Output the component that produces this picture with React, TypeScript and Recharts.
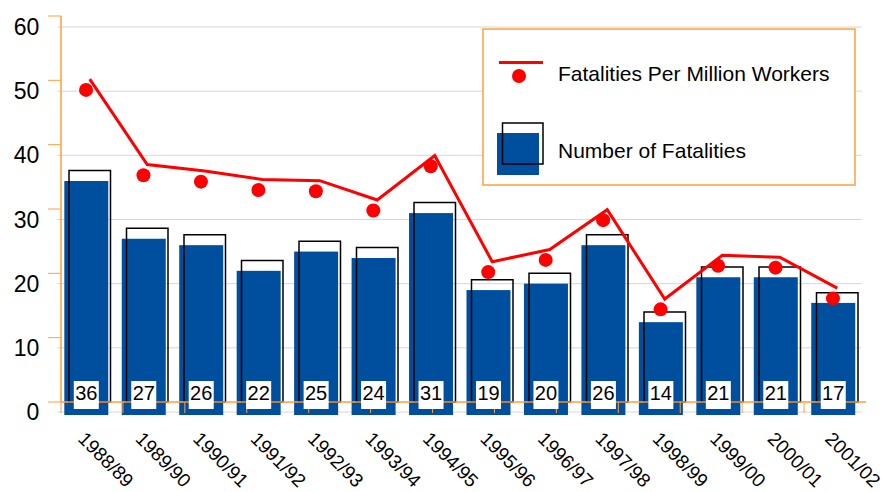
import React from 'react';
import { ComposedChart, Bar, Line, XAxis, YAxis, CartesianGrid, LabelList } from 'recharts';

const years = ['1988/89','1989/90','1990/91','1991/92','1992/93','1993/94','1994/95','1995/96','1996/97','1997/98','1998/99','1999/00','2000/01','2001/02'];
const fatalities = [36,27,26,22,25,24,31,19,20,26,14,21,21,17];
const ratePerMillion = [50.2,36.9,35.9,34.6,34.4,31.4,38.3,21.8,23.7,29.9,16.0,22.8,22.5,17.7];
const yTicks = [0,10,20,30,40,50,60];
const boundaryTicks = [0,1,2,3,4,5,6,7,8,9,10,11,12,13,14];

const data = years.map((year, i) => ({ year, fatalities: fatalities[i], rate: ratePerMillion[i] }));

const FONT = '"Liberation Sans", Arial, sans-serif';
const ORANGE = '#ff9f40';
const BLUE = '#004f9e';
const RED = '#ff0000';
const W = 882;
const H = 492;

const abs: React.CSSProperties = { position: 'absolute', left: 0, top: 0 };

const XTick = (props: any) => {
  const { x, y, payload } = props;
  const tx = x - 9;
  return (
    <text x={tx} y={y} transform={`rotate(45, ${tx}, ${y})`} textAnchor="start" fontSize={19} fontFamily={FONT} fill="#000">
      {payload.value}
    </text>
  );
};

const BlueBar = (props: any) => {
  const { x, y, width, height } = props;
  return <rect x={x} y={y} width={width} height={height + 3} fill={BLUE} />;
};

const ValueLabel = (props: any) => {
  const { x, y, width, height, value } = props;
  const cx = x + width / 2;
  const base = y + height;
  return (
    <g>
      <rect x={cx - 12.5} y={base - 31} width={25} height={28} fill="#fff" />
      <text x={cx} y={base - 12} textAnchor="middle" fontSize={20} fontFamily={FONT} fill="#000">{value}</text>
    </g>
  );
};

const EmptyTick = () => <g />;

export default function App() {
  return (
    <div style={{ position: 'absolute', left: 0, top: 0, width: W, height: H, background: '#fff' }}>
      {/* Layer A: grid, labels, blue bars */}
      <div style={abs}>
        <ComposedChart width={W} height={H} data={data} margin={{ top: 27, right: 20.3, left: 0, bottom: 0 }}>
          <CartesianGrid vertical={false} stroke="#d6d6d6" strokeWidth={1} />
          <XAxis dataKey="year" height={80} tickLine={false} axisLine={false} tickSize={0} tickMargin={28} tick={<XTick />} interval={0} />
          <YAxis width={57.3} domain={[0, 60]} ticks={yTicks} tickLine={false} axisLine={false} tickSize={0} tickMargin={18}
            tick={{ fill: '#000', fontSize: 23, fontFamily: FONT }} />
          <Bar dataKey="fatalities" barSize={44} fill={BLUE} shape={<BlueBar />} isAnimationActive={false} />
        </ComposedChart>
      </div>
      {/* Layer B: orange frame, outline bars, red line */}
      <div style={abs}>
        <ComposedChart width={W} height={H} data={data} margin={{ top: 16, right: 16, left: 0, bottom: 0 }}>
          <XAxis xAxisId="t" type="number" domain={[0, 14]} ticks={boundaryTicks} height={90}
            axisLine={{ stroke: ORANGE, strokeWidth: 1.5 }} tickLine={{ stroke: ORANGE, strokeWidth: 1 }} tickSize={11} tick={<EmptyTick />} />
          <XAxis dataKey="year" hide height={0} />
          <XAxis xAxisId="top" orientation="top" type="number" domain={[0, 14]} height={0}
            axisLine={{ stroke: ORANGE, strokeWidth: 1.5 }} tickLine={false} tick={false} />
          <YAxis width={61} domain={[0, 60]} ticks={yTicks} axisLine={{ stroke: ORANGE, strokeWidth: 1.5 }}
            tickLine={{ stroke: ORANGE, strokeWidth: 1 }} tickSize={13} tick={<EmptyTick />} />
          <YAxis yAxisId="r" orientation="right" width={0} domain={[0, 60]} axisLine={{ stroke: ORANGE, strokeWidth: 1.5 }} tickLine={false} tick={false} />
          <Bar dataKey="fatalities" barSize={41.5} fill="none" stroke="#000" strokeWidth={1.5} isAnimationActive={false} />
          <Line dataKey="rate" type="linear" stroke={RED} strokeWidth={3} dot={false} activeDot={false} isAnimationActive={false} />
        </ComposedChart>
      </div>
      {/* Layer C: red dots, value labels */}
      <div style={abs}>
        <ComposedChart width={W} height={H} data={data} margin={{ top: 27, right: 20.3, left: 57.3, bottom: 80 }}>
          <XAxis dataKey="year" hide />
          <YAxis hide domain={[0, 60]} />
          <Bar dataKey="fatalities" barSize={44} fill="none" isAnimationActive={false}>
            <LabelList dataKey="fatalities" content={<ValueLabel />} />
          </Bar>
          <Line dataKey="rate" stroke="none" dot={{ r: 7, fill: RED, stroke: 'none' }} activeDot={false} isAnimationActive={false} />
        </ComposedChart>
      </div>
      {/* Legend */}
      <svg width={W} height={H} style={{ ...abs, pointerEvents: 'none' }}>
        <rect x={483} y={29} width={372} height={156} fill="#fff" stroke={ORANGE} strokeWidth={1.5} />
        <line x1={499} y1={62.5} x2={543} y2={62.5} stroke={RED} strokeWidth={3} />
        <circle cx={519} cy={76} r={7} fill={RED} />
        <text x={558} y={81} fontSize={21} fontFamily={FONT} fill="#000">Fatalities Per Million Workers</text>
        <rect x={497} y={133} width={42} height={42} fill={BLUE} />
        <rect x={502.5} y={123} width={40.5} height={41} fill="none" stroke="#000" strokeWidth={1.5} />
        <text x={558} y={158} fontSize={21} fontFamily={FONT} fill="#000">Number of Fatalities</text>
      </svg>
    </div>
  );
}
